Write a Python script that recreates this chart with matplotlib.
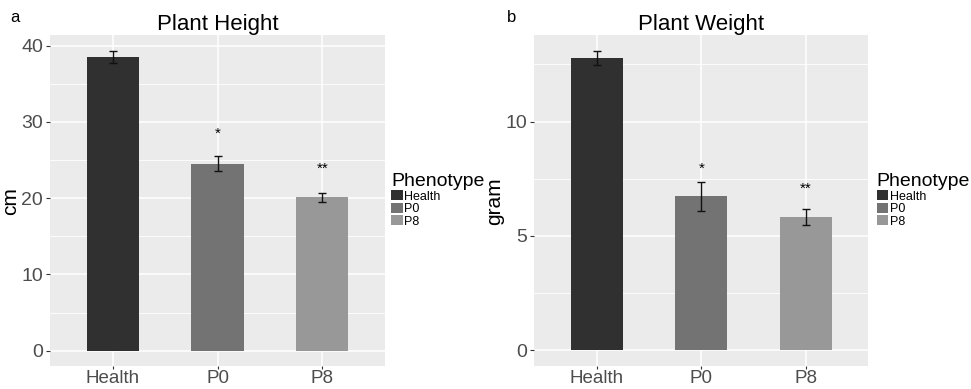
import numpy as np
import matplotlib.pyplot as plt
from matplotlib.patches import Patch

plt.rcParams['font.family'] = ['Liberation Sans', 'DejaVu Sans']

# data
groups = ['Health', 'P0', 'P8']
bar_colors = ['#303030', '#737373', '#989898']

height = [38.5, 24.5, 20.1]
height_err = [0.8, 1.0, 0.55]
height_sig = ['', '*', '**']
height_star_y = [0, 28.4, 23.9]

weight = [12.78, 6.73, 5.82]
weight_err = [0.32, 0.64, 0.36]
weight_sig = ['', '*', '**']
weight_star_y = [0, 7.95, 7.05]

fig = plt.figure(figsize=(9.71, 3.89), dpi=100)


def panel(rect, vals, errs, sig, star_y, title, ylab, ylim, major, minor, letter, letter_x, leg_x):
    ax = fig.add_axes(rect)
    ax.set_facecolor('#EBEBEB')
    x = np.arange(len(groups))
    for m in minor:
        ax.axhline(m, color='white', lw=0.6, zorder=0)
    for m in major:
        ax.axhline(m, color='white', lw=1.1, zorder=0)
    for xi in x:
        ax.axvline(xi, color='white', lw=1.1, zorder=0)
    ax.bar(x, vals, width=0.5, color=bar_colors, zorder=2)
    ax.errorbar(x, vals, yerr=errs, fmt='none', ecolor='#111111', elinewidth=1,
                capsize=3, capthick=1, zorder=3)
    for xi, s, sy in zip(x, sig, star_y):
        if s:
            ax.text(xi, sy, s, ha='center', va='center', fontsize=11, color='black')
    ax.set_xlim(-0.6, 2.6)
    ax.set_ylim(*ylim)
    ax.set_yticks(major)
    ax.set_xticks(x)
    ax.set_xticklabels(groups)
    ax.tick_params(axis='both', colors='#333333', labelcolor='#4D4D4D', labelsize=14,
                   length=3, width=0.8, pad=2)
    ax.tick_params(axis='x', length=2, pad=0.5, labelsize=13.5)
    for sp in ax.spines.values():
        sp.set_visible(False)
    ax.set_title(title, fontsize=16, pad=3)
    ax.set_ylabel(ylab, fontsize=15, labelpad=1)
    fig.text(letter_x, 0.955, letter, fontsize=12, ha='left', va='center')
    handles = [Patch(facecolor=c, edgecolor='none') for c in bar_colors]
    leg = fig.legend(handles, groups, title='Phenotype', loc='upper left',
                     bbox_to_anchor=(leg_x, 0.555), frameon=False, fontsize=9,
                     title_fontsize=14, handlelength=0.9, handleheight=0.9,
                     handletextpad=0.15, labelspacing=0.0, borderpad=0, borderaxespad=0)
    leg._legend_box.align = 'left'
    return ax


panel([0.0515, 0.058, 0.345, 0.852], height, height_err, height_sig, height_star_y,
      'Plant Height', 'cm', (-2.07, 41.4), [0, 10, 20, 30, 40], [5, 15, 25, 35],
      'a', 0.011, 0.403)
panel([0.5503, 0.058, 0.344, 0.852], weight, weight_err, weight_sig, weight_star_y,
      'Plant Weight', 'gram', (-0.7, 13.78), [0, 5, 10], [2.5, 7.5, 12.5],
      'b', 0.522, 0.903)

fig.savefig('out.png', dpi=100)
